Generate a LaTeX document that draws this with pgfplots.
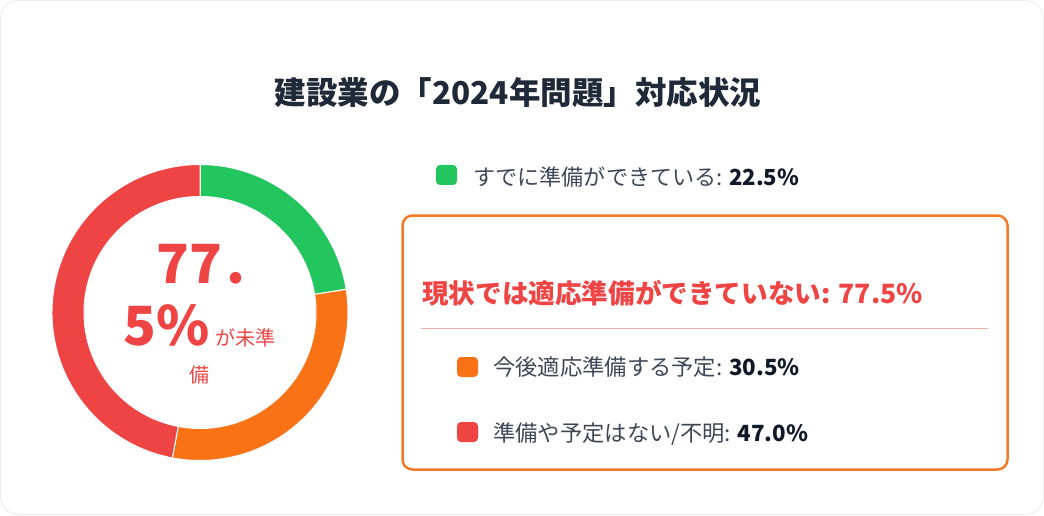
\documentclass[border=0pt]{standalone}
\usepackage{pgfplots}
\pgfplotsset{compat=1.18}
\usepackage{pgfplotstable}
\usepackage{fontspec}
\setmainfont{Noto Sans CJK JP}

\definecolor{cgreen}{HTML}{22C55E}
\definecolor{corange}{HTML}{F97316}
\definecolor{cred}{HTML}{EF4444}
\definecolor{ctitle}{HTML}{1F2937}
\definecolor{ctext}{HTML}{3F4756}
\definecolor{cbold}{HTML}{111827}
\definecolor{cbox}{HTML}{F07A26}
\definecolor{csep}{HTML}{F4AFA8}
\definecolor{ccard}{HTML}{ECEDEF}

% share of each answer, cumulative start, colour index
\pgfplotstableread{
pct  cum  idx
22.5 0.0  0
30.5 22.5 1
47.0 53.0 2
}\donutdata

\begin{document}
\begin{tikzpicture}[x=1pt,y=1pt]
\useasboundingbox (0,0) rectangle (1044,515);
\draw[ccard, line width=1pt, rounded corners=18pt] (0.5,0.5) rectangle (1043.5,514.5);

\node[anchor=base, inner sep=0, text=ctitle, font=\fontsize{31.5}{38}\selectfont\bfseries]
  at (518,410.5) {建設業の「2024年問題」対応状況};

\begin{axis}[at={(200pt,202.5pt)}, anchor=center, scale only axis,
  width=296pt, height=296pt,
  xmin=-1, xmax=1, ymin=-1, ymax=1,
  hide axis, clip=false]
\addplot[scatter, only marks, mark=*, mark size=0pt,
  mark options={draw=none, fill=none},
  visualization depends on={\thisrow{pct} \as \segpct},
  visualization depends on={\thisrow{cum} \as \segcum},
  visualization depends on={\thisrow{idx} \as \segidx},
  scatter/@pre marker code/.code={%
    \pgfmathsetmacro\sa{90-3.6*\segcum}%
    \pgfmathsetmacro\sb{90-3.6*(\segcum+\segpct)}%
    \pgfmathtruncatemacro\si{\segidx}%
    \ifcase\si\colorlet{segc}{cgreen}\or\colorlet{segc}{corange}\else\colorlet{segc}{cred}\fi
    \filldraw[fill=segc, draw=white, line width=1pt]
      (\sa:148pt) arc[start angle=\sa, end angle=\sb, radius=148pt]
      -- (\sb:116pt) arc[start angle=\sb, end angle=\sa, radius=116pt] -- cycle;
  },
  scatter/@post marker code/.code={}]
  table[x expr=0, y expr=0] {\donutdata};
\end{axis}

% centre label
\node[anchor=base, inner sep=0, text=cred, font=\fontsize{54}{60}\selectfont\bfseries]
  at (201,232) {77\kern5pt.};
\node[anchor=base, inner sep=0, text=cred]
  at (199.5,170) {\fontsize{54}{60}\selectfont\bfseries 5\%\hspace{6pt}\fontsize{20}{24}\selectfont\mdseries が未準};
\node[anchor=base, inner sep=0, text=cred, font=\fontsize{20}{24}\selectfont]
  at (199.5,132.4) {備};

% legend
\fill[cgreen, rounded corners=4pt] (436,330) rectangle (457,350);
\node[anchor=base west, inner sep=0, text=ctext, font=\fontsize{22.1}{27}\selectfont]
  at (473,329) {すでに準備ができている: \textcolor{cbold}{\bfseries 22.5\%}};

\draw[cbox, line width=2.5pt, rounded corners=10pt] (402.5,45.5) rectangle (1007.5,299.5);
\node[anchor=base west, inner sep=0, text=cred, font=\fontsize{26.6}{32}\selectfont\bfseries]
  at (422,212) {現状では適応準備ができていない: 77.5\%};
\draw[csep, line width=1pt] (421,187) -- (988,187);

\fill[corange, rounded corners=4pt] (457,138) rectangle (478,158);
\node[anchor=base west, inner sep=0, text=ctext, font=\fontsize{22.3}{27}\selectfont]
  at (493,139.5) {今後適応準備する予定: \textcolor{cbold}{\bfseries 30.5\%}};
\fill[cred, rounded corners=4pt] (457,73) rectangle (478,93);
\node[anchor=base west, inner sep=0, text=ctext, font=\fontsize{22.3}{27}\selectfont]
  at (493,74) {準備や予定はない/不明: \textcolor{cbold}{\bfseries 47.0\%}};
\end{tikzpicture}
\end{document}
